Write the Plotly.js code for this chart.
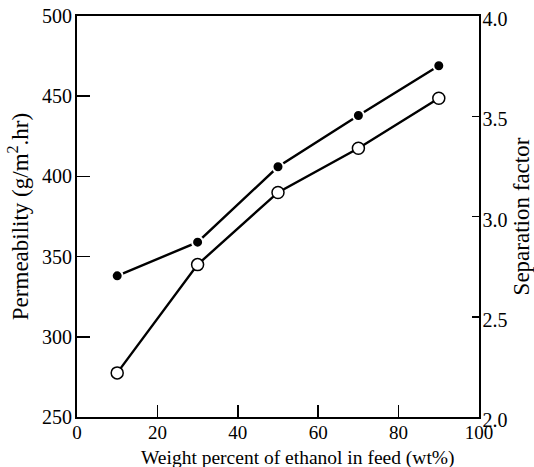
<!DOCTYPE html>
<html>
<head>
<meta charset="utf-8">
<script src="https://cdn.plot.ly/plotly-3.0.1.min.js"></script>
<style>
  html, body { margin: 0; padding: 0; background: #fff; }
  #chart { width: 534px; height: 467px; }
</style>
</head>
<body>
<div id="chart"></div>
<script>
// Ethanol content of the feed, wt%
const feedEthanol = [10, 30, 50, 70, 90];
// Permeability, g/m2.hr (filled circles, left axis)
const permeability = [338, 359, 406, 438, 469];
// Separation factor (open circles, right axis)
const separationFactor = [2.22, 2.76, 3.12, 3.34, 3.59];

const xTicks = [0, 20, 40, 60, 80, 100];
const leftTicks = [250, 300, 350, 400, 450, 500];
const rightTicks = [2.0, 2.5, 3.0, 3.5, 4.0];

const xTitle = 'Weight percent of ethanol in feed (wt%)';
const leftTitle = 'Permeability (g/m<sup>2</sup>.hr)';
const rightTitle = 'Separation factor';

const serif = 'Liberation Serif, Times New Roman, serif';

const traces = [
  {
    x: feedEthanol, y: permeability, yaxis: 'y', type: 'scatter', mode: 'lines+markers',
    line: { color: '#000', width: 2.4 },
    marker: { symbol: 'circle', size: 11, color: '#000', line: { color: '#fff', width: 2 } },
    hoverinfo: 'skip'
  },
  {
    x: feedEthanol, y: separationFactor, yaxis: 'y2', type: 'scatter', mode: 'lines+markers',
    line: { color: '#000', width: 2.4 },
    marker: { symbol: 'circle', size: 12, color: '#fff', line: { color: '#000', width: 1.5 } },
    hoverinfo: 'skip'
  }
];

const layout = {
  width: 534, height: 467,
  margin: { l: 77, r: 55, t: 16, b: 50, pad: 0 },
  paper_bgcolor: '#fff', plot_bgcolor: '#fff',
  showlegend: false,
  font: { family: serif, color: '#000', size: 20 },
  xaxis: {
    range: [0, 100], tickvals: xTicks, ticks: 'inside', ticklen: 12, tickwidth: 1.5, tickcolor: '#000',
    showline: true, linewidth: 2, linecolor: '#000', mirror: true, showgrid: false, zeroline: false,
    tickfont: { family: serif, size: 19 }, ticklabelstandoff: -3
  },
  yaxis: {
    range: [250, 500], tickvals: leftTicks, ticks: 'inside', ticklen: 13, tickwidth: 1.5, tickcolor: '#000',
    showline: true, linewidth: 2, linecolor: '#000', showgrid: false, zeroline: false,
    tickfont: { family: serif, size: 20 }, ticklabelstandoff: -1,
    title: { text: leftTitle, font: { family: serif, size: 23 }, standoff: 7 }
  },
  yaxis2: {
    range: [2.0, 4.0], tickvals: rightTicks, tickformat: '.1f', overlaying: 'y', side: 'right',
    ticks: 'inside', ticklen: 7, tickwidth: 1.5, tickcolor: '#000',
    showline: true, linewidth: 1.5, linecolor: '#000', showgrid: false, zeroline: false,
    tickfont: { family: serif, size: 20 }, ticklabelstandoff: -2, ticklabelshift: 3,
    title: { text: rightTitle, font: { family: serif, size: 23 }, standoff: 6 }
  },
  annotations: [
    {
      text: xTitle, xref: 'paper', yref: 'paper', x: 0.55, y: -0.102,
      xanchor: 'center', yanchor: 'middle', showarrow: false,
      font: { family: serif, size: 19.5, color: '#000' }
    }
  ]
};

Plotly.newPlot('chart', traces, layout, { staticPlot: true, displayModeBar: false });
</script>
</body>
</html>
